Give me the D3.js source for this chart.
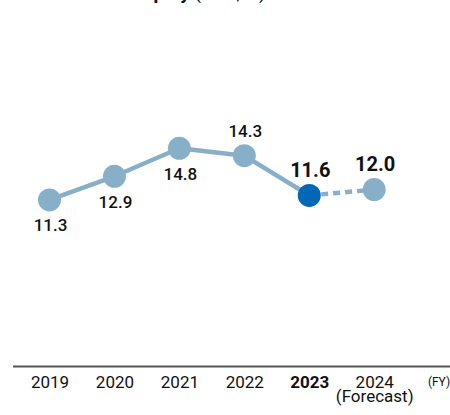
<!DOCTYPE html>
<html>
<head>
<meta charset="utf-8">
<script src="https://cdn.jsdelivr.net/npm/d3@7"></script>
<style>
  html, body { margin: 0; padding: 0; background: #fff; }
  svg { display: block; font-family: Roboto, "Noto Sans", sans-serif; }
</style>
</head>
<body>
<svg id="chart" width="450" height="415"></svg>
<script>
// Return on equity by fiscal year (%)
const years = ["2019", "2020", "2021", "2022", "2023", "2024"];
const roe = [11.3, 12.9, 14.8, 14.3, 11.6, 12.0];
const yearNotes = ["", "", "", "", "", "(Forecast)"];
const currentYear = "2023";
const forecastYear = "2024";

const svg = d3.select("#chart");
const W = 450;

const x = d3.scalePoint().domain(years).range([49.5, 374.2]);
const y = d3.scaleLinear().domain([0, 20]).range([366.5, 71.6]);

const points = years.map((yr, i) => ({ year: yr, value: roe[i], i }));
const actual = points.filter(d => d.year !== forecastYear);
const forecastSeg = points.filter(d => d.year === currentYear || d.year === forecastYear);

// Title (top line of the panel)
const title = svg.append("text").attr("x", 49).attr("y", -1)
  .attr("font-size", 19).attr("fill", "#111");
title.append("tspan").attr("font-weight", 700).text("Return on Equity");
title.append("tspan").attr("font-weight", 400).text(" (ROE, %)");

const line = d3.line().x(d => x(d.year)).y(d => y(d.value));

// Actual results
svg.append("path").datum(actual)
  .attr("d", line)
  .attr("fill", "none")
  .attr("stroke", "#88afc8")
  .attr("stroke-width", 4.5)
  .attr("stroke-linejoin", "round");

// Forecast segment
svg.append("path").datum(forecastSeg)
  .attr("d", line)
  .attr("fill", "none")
  .attr("stroke", "#88afc8")
  .attr("stroke-width", 4.5)
  .attr("stroke-dasharray", "7,5");

// Markers
svg.selectAll("circle.pt").data(points).join("circle")
  .attr("class", "pt")
  .attr("cx", d => x(d.year))
  .attr("cy", d => y(d.value))
  .attr("r", 11.5)
  .attr("fill", d => d.year === currentYear ? "#0068b6" : "#88afc8");

// Value labels: early years sit below the marker, later ones above
const emphasised = d => d.year === currentYear || d.year === forecastYear;
svg.selectAll("text.val").data(points).join("text")
  .attr("class", "val")
  .attr("x", d => x(d.year) + 1)
  .attr("y", d => d.i < 3 ? y(d.value) + 31.5 : y(d.value) - 18.5)
  .attr("text-anchor", "middle")
  .attr("font-size", d => emphasised(d) ? 20 : 17)
  .attr("font-weight", d => emphasised(d) ? 700 : 500)
  .attr("fill", "#111")
  .text(d => d.value.toFixed(1));

// Baseline
svg.append("line")
  .attr("x1", 13).attr("x2", W)
  .attr("y1", y(0)).attr("y2", y(0))
  .attr("stroke", "#555").attr("stroke-width", 2);

// Year axis
const axis = svg.append("g")
  .attr("transform", `translate(0,${y(0)})`)
  .call(d3.axisBottom(x).tickSize(0).tickPadding(0));
axis.select(".domain").remove();
axis.selectAll(".tick text")
  .attr("y", 21)
  .attr("dy", 0)
  .attr("font-family", "Roboto, 'Noto Sans', sans-serif")
  .attr("font-size", 17)
  .attr("font-weight", d => d === currentYear ? 700 : 400)
  .attr("fill", "#111");

axis.selectAll(".tick").each(function (d, i) {
  if (yearNotes[i]) {
    d3.select(this).append("text")
      .attr("y", 35)
      .attr("text-anchor", "middle")
      .attr("font-family", "Roboto, 'Noto Sans', sans-serif")
      .attr("font-size", 17)
      .attr("fill", "#111")
      .text(yearNotes[i]);
  }
});

// Unit note
svg.append("text")
  .attr("x", 439).attr("y", 386)
  .attr("text-anchor", "middle")
  .attr("font-size", 12)
  .attr("fill", "#111")
  .text("(FY)");
</script>
</body>
</html>
